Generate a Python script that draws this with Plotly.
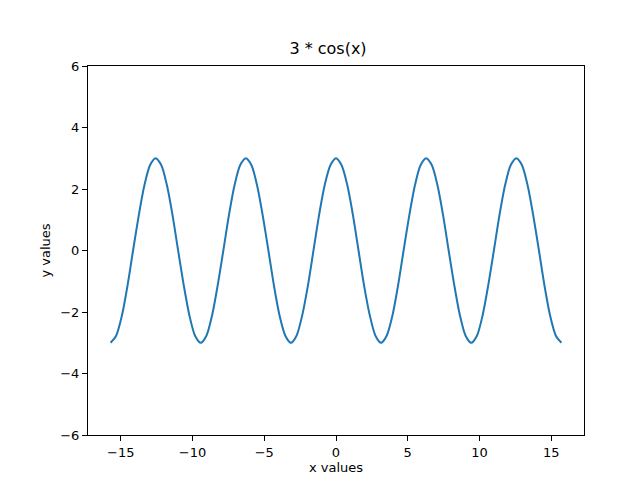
import plotly.graph_objects as go

# sample points, every pi/8
x_neg = [-15.71, -15.32, -14.92, -14.53, -14.14, -13.74, -13.35, -12.96,
         -12.57, -12.17, -11.78, -11.39, -11.00, -10.60, -10.21, -9.82,
         -9.42, -9.03, -8.64, -8.25, -7.85, -7.46, -7.07, -6.68,
         -6.28, -5.89, -5.50, -5.11, -4.71, -4.32, -3.93, -3.53,
         -3.14, -2.75, -2.36, -1.96, -1.57, -1.18, -0.79, -0.39]
x_vals = x_neg + [0.0] + [-v for v in reversed(x_neg)]

y_vals = [-3.0, -2.77, -2.12, -1.15, 0.0, 1.15, 2.12, 2.77,
          3.0, 2.77, 2.12, 1.15, 0.0, -1.15, -2.12, -2.77,
          -3.0, -2.77, -2.12, -1.15, 0.0, 1.15, 2.12, 2.77,
          3.0, 2.77, 2.12, 1.15, 0.0, -1.15, -2.12, -2.77,
          -3.0, -2.77, -2.12, -1.15, 0.0, 1.15, 2.12, 2.77,
          3.0,
          2.77, 2.12, 1.15, 0.0, -1.15, -2.12, -2.77, -3.0,
          -2.77, -2.12, -1.15, 0.0, 1.15, 2.12, 2.77, 3.0,
          2.77, 2.12, 1.15, 0.0, -1.15, -2.12, -2.77, -3.0,
          -2.77, -2.12, -1.15, 0.0, 1.15, 2.12, 2.77, 3.0,
          2.77, 2.12, 1.15, 0.0, -1.15, -2.12, -2.77, -3.0]

x_ticks = [-15, -10, -5, 0, 5, 10, 15]
y_ticks = [-6, -4, -2, 0, 2, 4, 6]


def label(v):
    return str(v).replace("-", "\u2212")


fig = go.Figure(go.Scatter(x=x_vals, y=y_vals, mode="lines",
                           line=dict(color="#1f77b4", width=2, shape="spline", smoothing=0.8)))

axis_style = dict(showline=True, linecolor="black", linewidth=1, mirror=True,
                  ticks="outside", ticklen=5, tickcolor="black", showgrid=False,
                  zeroline=False, automargin=False, tickfont=dict(size=13, color="black"))

fig.update_layout(
    width=640, height=480,
    font=dict(family="DejaVu Sans", size=13, color="black"),
    title=dict(text="3 * cos(x)", x=0.5, xanchor="center", y=0.905, yanchor="bottom",
               font=dict(size=16)),
    plot_bgcolor="white", paper_bgcolor="white",
    margin=dict(l=80, r=64, t=58, b=53, autoexpand=False),
    showlegend=False,
    xaxis=dict(range=[-17.28, 17.28], tickvals=x_ticks, ticktext=[label(v) for v in x_ticks],
               title=dict(text="x values", standoff=4, font=dict(size=13)), **axis_style),
    yaxis=dict(range=[-6, 6], tickvals=y_ticks, ticktext=[label(v) for v in y_ticks],
               title=dict(text="y values", standoff=6, font=dict(size=13)), **axis_style),
)

fig.write_html("out.html")
